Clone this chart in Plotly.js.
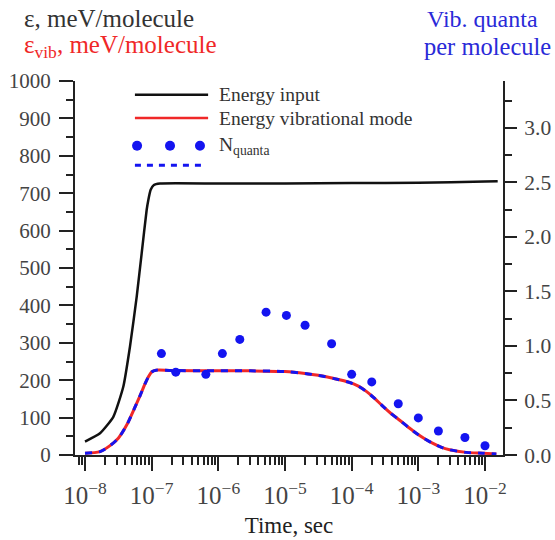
<!DOCTYPE html>
<html>
<head>
<meta charset="utf-8">
<script src="https://cdn.plot.ly/plotly-3.0.1.min.js"></script>
<style>html,body{margin:0;padding:0;background:#fff;}#chart{width:555px;height:540px;}</style>
</head>
<body>
<div id="chart"></div>
<script>
// Energy input (meV/molecule) vs time (s)
const timeInput = [1e-8, 1.68e-8, 2.66e-8, 3.76e-8, 4.73e-8, 5.96e-8, 7.08e-8, 8.41e-8, 8.91e-8, 9.66e-8, 1.08e-7, 1.33e-7, 1e-6, 1e-5, 1e-4, 1e-3, 1e-2, 1.55e-2];
const energyInput = [36, 58, 102, 183, 290, 423, 539, 655, 682, 709, 722, 726, 726, 726, 727, 728, 731, 732];

// Vibrational-mode energy (meV/molecule) and the same curve in quanta per molecule
const timeVib = [1e-8, 1.68e-8, 2.37e-8, 3.16e-8, 4.22e-8, 5.62e-8, 6.68e-8, 7.94e-8, 9.12e-8, 1e-7, 1.17e-7, 2e-7, 1e-6, 3e-6, 1e-5, 2e-5, 3.16e-5, 5.25e-5, 9.3e-5, 1.26e-4, 1.66e-4, 2.19e-4, 2.95e-4, 3.89e-4, 5.25e-4, 7e-4, 9.3e-4, 1.26e-3, 1.66e-3, 2.19e-3, 2.95e-3, 5.25e-3, 9.3e-3, 1.48e-2];
const energyVib = [5, 9, 25, 45, 80, 128, 158, 190, 212, 222, 227, 226, 225, 225, 223, 218, 213, 205, 194, 184, 170, 152, 130, 111, 93, 75, 58, 43, 31, 21, 14, 7, 5, 3];
const quantaLine = [0.017, 0.031, 0.086, 0.154, 0.274, 0.439, 0.542, 0.652, 0.727, 0.761, 0.778, 0.775, 0.772, 0.772, 0.765, 0.748, 0.730, 0.703, 0.665, 0.631, 0.583, 0.521, 0.446, 0.381, 0.319, 0.257, 0.199, 0.147, 0.106, 0.072, 0.048, 0.024, 0.017, 0.010];

// N_quanta points
const timeDots = [1.4e-7, 2.3e-7, 6.5e-7, 1.15e-6, 2.1e-6, 5.2e-6, 1.05e-5, 2e-5, 5e-5, 1e-4, 2e-4, 5e-4, 1e-3, 2e-3, 5e-3, 1e-2];
const quantaDots = [0.93, 0.76, 0.74, 0.93, 1.06, 1.31, 1.28, 1.19, 1.02, 0.74, 0.67, 0.47, 0.34, 0.22, 0.16, 0.085];

const seriesNames = ['Energy input', 'Energy vibrational mode', 'N<sub>quanta</sub>'];

const serif = '"Liberation Serif", "Times New Roman", serif';
const blue = '#1414f0';
const red = '#f02828';

const traces = [
  {x: timeInput, y: energyInput, mode: 'lines', name: seriesNames[0], yaxis: 'y',
   line: {color: '#111', width: 2.5, shape: 'spline', smoothing: 0.5}},
  {x: timeVib, y: energyVib, mode: 'lines', name: seriesNames[1], yaxis: 'y',
   line: {color: red, width: 3, shape: 'spline', smoothing: 0.8}},
  {x: timeVib, y: quantaLine, mode: 'lines', name: seriesNames[2], yaxis: 'y2',
   line: {color: blue, width: 3, dash: '7px,7px', shape: 'spline', smoothing: 0.8}},
  {x: timeDots, y: quantaDots, mode: 'markers', name: seriesNames[2], yaxis: 'y2',
   marker: {color: blue, size: 9}}
];

// custom legend (paper coords)
const lgX0 = 0.140, lgX1 = 0.311, lgTxt = 0.332;
const lgY = [0.963, 0.901, 0.827, 0.775];
const shapes = [
  {type: 'line', xref: 'paper', yref: 'paper', x0: lgX0, x1: lgX1, y0: lgY[0], y1: lgY[0], line: {color: '#111', width: 2.5}},
  {type: 'line', xref: 'paper', yref: 'paper', x0: lgX0, x1: lgX1, y0: lgY[1], y1: lgY[1], line: {color: red, width: 2.5}},
  {type: 'line', xref: 'paper', yref: 'paper', x0: lgX0, x1: 0.305, y0: lgY[3], y1: lgY[3], line: {color: blue, width: 3, dash: '6px,6px'}}
];
[0.145, 0.222, 0.292].forEach(function (cx) {
  shapes.push({type: 'circle', xref: 'paper', yref: 'paper', xsizemode: 'pixel', ysizemode: 'pixel',
    xanchor: cx, yanchor: lgY[2], x0: -5, x1: 5, y0: -5, y1: 5,
    fillcolor: blue, line: {color: blue, width: 0}});
});

const annotations = [
  {text: seriesNames[0], xref: 'paper', yref: 'paper', x: lgTxt, y: lgY[0], xanchor: 'left', yanchor: 'middle', showarrow: false, font: {family: serif, size: 19.5, color: '#333'}},
  {text: seriesNames[1], xref: 'paper', yref: 'paper', x: lgTxt, y: lgY[1], xanchor: 'left', yanchor: 'middle', showarrow: false, font: {family: serif, size: 19.5, color: '#333'}},
  {text: seriesNames[2], xref: 'paper', yref: 'paper', x: lgTxt, y: lgY[2], xanchor: 'left', yanchor: 'middle', showarrow: false, font: {family: serif, size: 19.5, color: '#333'}},
  {text: 'ε, meV/molecule', xref: 'paper', yref: 'paper', x: -0.124, y: 1.168, xanchor: 'left', yanchor: 'middle', showarrow: false, font: {family: serif, size: 25, color: '#333'}},
  {text: 'ε<sub>vib</sub>, meV/molecule', xref: 'paper', yref: 'paper', x: -0.124, y: 1.091, xanchor: 'left', yanchor: 'middle', showarrow: false, font: {family: serif, size: 25, color: red}},
  {text: 'Vib. quanta', xref: 'paper', yref: 'paper', x: 0.952, y: 1.166, xanchor: 'center', yanchor: 'middle', showarrow: false, font: {family: serif, size: 24, color: '#2a2ad8'}},
  {text: 'per molecule', xref: 'paper', yref: 'paper', x: 0.964, y: 1.091, xanchor: 'center', yanchor: 'middle', showarrow: false, font: {family: serif, size: 24.5, color: '#2a2ad8'}}
];

const axisCommon = {
  showgrid: false, zeroline: false, showline: true, linecolor: '#222', linewidth: 2,
  ticks: 'outside', tickcolor: '#222', tickwidth: 2
};

const layout = {
  width: 555, height: 540,
  margin: {l: 75, r: 52, t: 81, b: 85},
  paper_bgcolor: '#fff', plot_bgcolor: '#fff',
  showlegend: false,
  font: {family: serif},
  xaxis: Object.assign({}, axisCommon, {
    type: 'log', range: [-8.15, -1.73], dtick: 1, exponentformat: 'power',
    ticklen: 14, ticklabelstandoff: 4,
    tickfont: {family: serif, size: 20, color: '#444'},
    minor: {ticks: 'outside', ticklen: 8, dtick: 'D1', tickcolor: '#222', tickwidth: 2},
    title: {text: 'Time, sec', font: {family: serif, size: 23, color: '#222'}, standoff: 9}
  }),
  yaxis: Object.assign({}, axisCommon, {
    range: [0, 1000], dtick: 100, ticklen: 14, ticklabelstandoff: 4,
    tickfont: {family: serif, size: 21, color: '#444'},
    minor: {ticks: 'outside', ticklen: 7, dtick: 50, tickcolor: '#222', tickwidth: 2}
  }),
  yaxis2: Object.assign({}, axisCommon, {
    overlaying: 'y', side: 'right', range: [0, 3.43], dtick: 0.5, tickformat: '.1f',
    ticklen: 12, ticklabelstandoff: 3,
    tickfont: {family: serif, size: 21.5, color: '#444'},
    minor: {ticks: 'outside', ticklen: 7, dtick: 0.25, tickcolor: '#222', tickwidth: 2}
  }),
  shapes: shapes,
  annotations: annotations
};

Plotly.newPlot('chart', traces, layout, {displayModeBar: false, staticPlot: true});
</script>
</body>
</html>
